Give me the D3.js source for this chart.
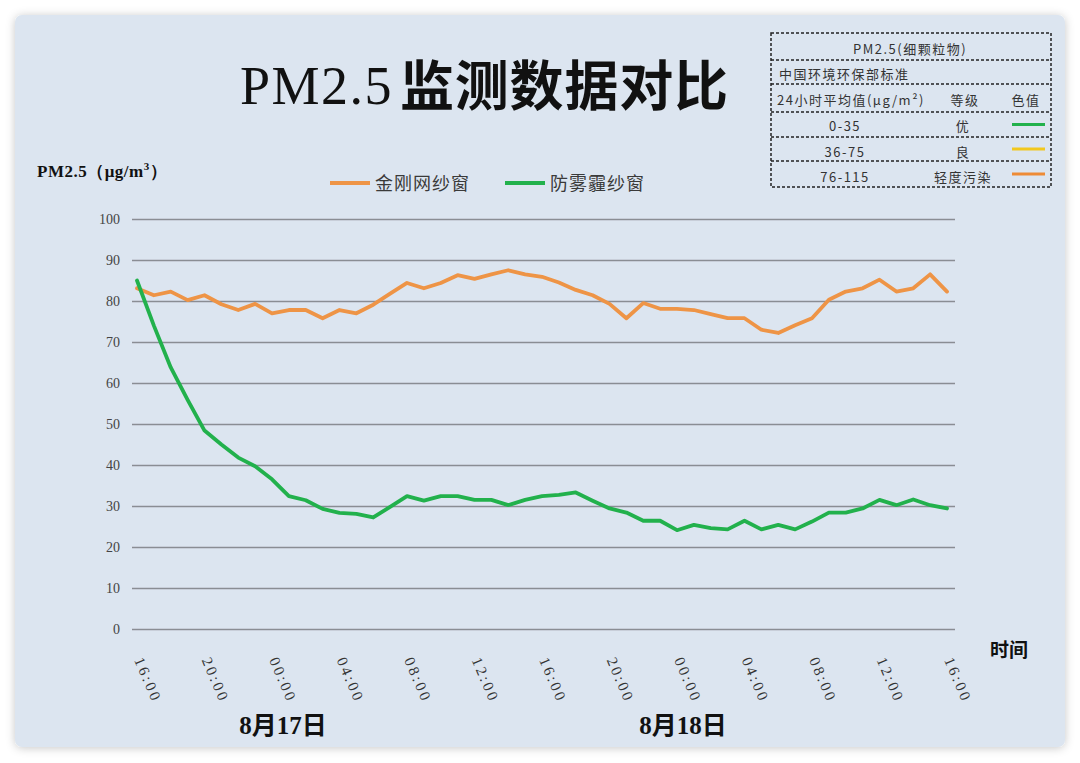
<!DOCTYPE html>
<html><head><meta charset="utf-8">
<script src="https://cdn.jsdelivr.net/npm/d3@7"></script>
<style>
html,body{margin:0;padding:0;background:#fff;}
svg{display:block;}
</style></head>
<body>
<svg id="chart" width="1080" height="763"></svg>
<script>
// ---- data ----
const hours = d3.range(49); // hourly points
const tickLabels = ["16:00","20:00","00:00","04:00","08:00","12:00","16:00","20:00","00:00","04:00","08:00","12:00","16:00"];
const seriesNames = ["金刚网纱窗","防雾霾纱窗"];
const meshValues = [83.1,81.4,82.3,80.2,81.4,79.2,77.8,79.3,77.0,77.8,77.8,75.8,77.8,77.0,79.1,81.8,84.4,83.1,84.4,86.3,85.4,86.5,87.5,86.5,85.9,84.5,82.7,81.4,79.3,75.8,79.5,78.1,78.1,77.8,76.8,75.8,75.8,73.0,72.2,74.1,75.8,80.3,82.3,83.1,85.2,82.3,83.1,86.5,82.3];
const smogValues = [85.0,74.0,63.8,55.9,48.4,45.0,41.8,39.7,36.5,32.4,31.4,29.3,28.3,28.1,27.2,29.8,32.4,31.3,32.4,32.4,31.5,31.5,30.2,31.5,32.4,32.7,33.3,31.3,29.4,28.4,26.4,26.4,24.1,25.4,24.6,24.3,26.4,24.3,25.4,24.3,26.2,28.4,28.4,29.4,31.5,30.2,31.6,30.2,29.4];
const yTicks = [0,10,20,30,40,50,60,70,80,90,100];
const dateLabels = ["8月17日","8月18日"];
const stdRanges = ["0-35","36-75","76-115"];
const stdLevels = ["优","良","轻度污染"];
const stdColors = ["#22b14c","#f2c81e","#ee8b36"];
const colors = ["#ee9446","#22b14c"];

const svg = d3.select("#chart");
const defs = svg.append("defs");
const f = defs.append("filter").attr("id","sh").attr("x","-5%").attr("y","-5%").attr("width","110%").attr("height","110%");
f.append("feDropShadow").attr("dx",0).attr("dy",1).attr("stdDeviation",5).attr("flood-color","#000").attr("flood-opacity",0.22);

svg.append("rect").attr("x",15).attr("y",15).attr("width",1050).attr("height",732).attr("rx",7)
  .attr("fill","#dce5f0").attr("filter","url(#sh)");

const x = d3.scalePoint().domain(hours).range([137,947]);
const y = d3.scaleLinear().domain([0,100]).range([629,219]);

// grid
const gridAxis = d3.axisLeft(y).tickValues(yTicks).tickSize(-823).tickFormat("");
const gg = svg.append("g").attr("transform","translate(132,0)").call(gridAxis);
gg.select(".domain").remove();
gg.selectAll("line").attr("stroke","#8a8d94").attr("stroke-width",1.5);

// y labels
const ya = d3.axisLeft(y).tickValues(yTicks).tickSize(0).tickPadding(0);
const yg = svg.append("g").attr("transform","translate(120,0)").call(ya);
yg.select(".domain").remove();
yg.selectAll("text").attr("font-family","Liberation Serif, serif").attr("font-size",14).attr("fill","#444").attr("dy","0.35em");

// x labels
const xa = d3.axisBottom(x).tickValues(hours.filter(h=>h%4===0)).tickSize(0).tickFormat((d,i)=>tickLabels[i]);
const xg = svg.append("g").call(xa);
xg.select(".domain").remove();
xg.selectAll(".tick").attr("transform",d=>`translate(${x(d)-3},660)`);
xg.selectAll("text").attr("y",0).attr("dy",0).attr("text-anchor","start")
  .attr("transform","rotate(67)")
  .attr("font-family","Liberation Serif, serif").attr("font-size",15).attr("fill","#333")
  .attr("textLength",45).attr("lengthAdjust","spacing");

// lines
const line = d3.line().x((d,i)=>x(i)).y(d=>y(d)).curve(d3.curveLinear);
[meshValues,smogValues].forEach((vals,k)=>{
  svg.append("path").datum(vals).attr("d",line).attr("fill","none")
    .attr("stroke",colors[k]).attr("stroke-width",3.8).attr("stroke-linejoin","round").attr("stroke-linecap","round");
});

// title
svg.append("text").attr("x",240).attr("y",104).text("PM2.5")
  .attr("font-family","Liberation Serif, serif").attr("font-size",54).attr("letter-spacing",1.5).attr("fill","#111");
svg.append("text").attr("x",400).attr("y",106).text("监测数据对比")
  .attr("font-family","Noto Sans CJK SC").attr("font-weight",700).attr("font-size",54).attr("letter-spacing",0.8).attr("fill","#111");

// y axis label
const yl = svg.append("text").attr("x",37).attr("y",177).attr("font-family","Liberation Serif, serif").attr("font-weight",700).attr("font-size",17).attr("fill","#111").attr("letter-spacing",0.5);
yl.append("tspan").text("PM2.5（μg/m");
yl.append("tspan").text("3").attr("font-size",11).attr("dy",-7);
yl.append("tspan").text("）").attr("dy",7);

// legend
const legX = [330,505];
seriesNames.forEach((n,k)=>{
  svg.append("line").attr("x1",legX[k]).attr("x2",legX[k]+40).attr("y1",183).attr("y2",183)
    .attr("stroke",colors[k]).attr("stroke-width",4);
  svg.append("text").attr("x",legX[k]+45).attr("y",190).text(n)
    .attr("font-family","Noto Sans CJK SC").attr("font-size",18).attr("letter-spacing",1).attr("fill","#3a3a3a");
});

// x title
svg.append("text").attr("x",990).attr("y",657).text("时间").attr("font-family","Noto Sans CJK SC").attr("font-weight",700).attr("font-size",19).attr("fill","#111");

// dates
[283,683].forEach((cx,i)=>{
  svg.append("text").attr("x",cx).attr("y",734).attr("text-anchor","middle").text(dateLabels[i])
    .attr("font-family","Liberation Serif, Noto Sans CJK SC, serif").attr("font-weight",700).attr("font-size",25).attr("fill","#111");
});

// standard box
const bx=771, bw=280, rows=[33,60,84,112,137,161,187];
const box = svg.append("g");
box.append("rect").attr("x",bx).attr("y",33).attr("width",bw).attr("height",154)
  .attr("fill","none").attr("stroke","#222").attr("stroke-width",1.5).attr("stroke-dasharray","3,2");
rows.slice(1,-1).forEach(r=>box.append("line").attr("x1",bx).attr("x2",bx+bw).attr("y1",r).attr("y2",r)
  .attr("stroke","#222").attr("stroke-width",1.5).attr("stroke-dasharray","3,2"));
const fs = {"font-family":"Noto Sans CJK SC","font-size":13,"fill":"#333","letter-spacing":1.5};
function tx(xx,yy,s,anchor){const e=box.append("text").attr("x",xx).attr("y",yy).attr("text-anchor",anchor||"start").text(s);Object.entries(fs).forEach(([k,v])=>e.attr(k,v));return e;}
tx(910,54,"PM2.5(细颗粒物)","middle");
tx(779,79,"中国环境环保部标准");
tx(777,105,"24小时平均值(μg/m²)");
tx(965,105,"等级","middle");
tx(1026,105,"色值","middle");
const baselines=[131,157,182];
stdRanges.forEach((r,i)=>{
  const yy = (rows[3+i]+rows[4+i])/2;
  tx(845,baselines[i],r,"middle");
  tx(963,baselines[i],stdLevels[i],"middle");
  box.append("line").attr("x1",1012).attr("x2",1045).attr("y1",yy).attr("y2",yy).attr("stroke",stdColors[i]).attr("stroke-width",3);
});
</script>
</body></html>
